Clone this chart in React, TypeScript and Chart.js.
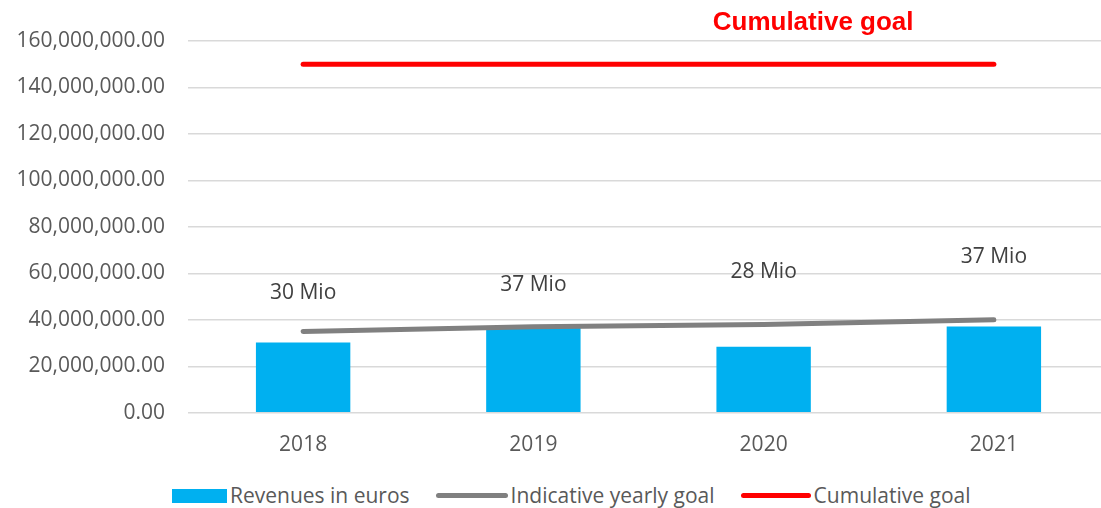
import React, { useEffect, useRef } from "react";
import { Chart, registerables } from "chart.js";

Chart.register(...registerables);

const categories = ["2018", "2019", "2020", "2021"];
const revenues = [30200000, 37200000, 28400000, 37100000];
const yearlyGoal = [35000000, 37000000, 38000000, 40000000];
const cumulativeGoal = [150000000, 150000000, 150000000, 150000000];
const revenueLabels = ["30 Mio", "37 Mio", "28 Mio", "37 Mio"];
const revenueLabelAnchors = [51600000, 55000000, 60600000, 67100000];
const cumulativeLabel = "Cumulative goal";
const yTicks = [0, 20000000, 40000000, 60000000, 80000000, 100000000, 120000000, 140000000, 160000000];

const BLUE = "#00B0F0";
const GRAY = "#808080";
const RED = "#FF0000";
const FONT = "'Open Sans', sans-serif";

const labelsPlugin = {
  id: "customLabels",
  afterDatasetsDraw(chart: any) {
    const { ctx, scales } = chart;
    const x = scales.x;
    const y = scales.y;
    ctx.save();
    ctx.textAlign = "center";
    ctx.textBaseline = "middle";
    ctx.fillStyle = "#404040";
    ctx.font = `21px ${FONT}`;
    revenueLabels.forEach((t, i) => {
      ctx.fillText(t, x.getPixelForValue(i), y.getPixelForValue(revenueLabelAnchors[i]));
    });
    const x2 = x.getPixelForValue(2);
    const x3 = x.getPixelForValue(3);
    ctx.fillStyle = RED;
    ctx.font = `bold 26px 'Liberation Sans', Arial, sans-serif`;
    ctx.fillText(cumulativeLabel, x2 + (x3 - x2) * 0.215, y.getPixelForValue(cumulativeGoal[2]) - 41);
    ctx.restore();
  },
};

export default function App() {
  const ref = useRef<HTMLCanvasElement | null>(null);
  useEffect(() => {
    if (!ref.current) return;
    const chart = new Chart(ref.current, {
      type: "bar",
      data: {
        labels: categories,
        datasets: [
          {
            type: "bar",
            label: "Revenues in euros",
            data: revenues,
            backgroundColor: BLUE,
            barPercentage: 0.41,
            categoryPercentage: 1,
            order: 3,
          },
          {
            type: "line",
            label: "Indicative yearly goal",
            data: yearlyGoal,
            borderColor: GRAY,
            backgroundColor: GRAY,
            borderWidth: 5,
            borderCapStyle: "round",
            pointRadius: 0,
            tension: 0,
            order: 2,
          },
          {
            type: "line",
            label: "Cumulative goal",
            data: cumulativeGoal,
            borderColor: RED,
            backgroundColor: RED,
            borderWidth: 5,
            borderCapStyle: "round",
            pointRadius: 0,
            order: 1,
          },
        ],
      } as any,
      options: {
        responsive: false,
        animation: false,
        layout: { padding: { top: 41, right: 0, left: 0, bottom: 5 } },
        plugins: {
          legend: { display: false },
          tooltip: { enabled: false },
        },
        scales: {
          x: {
            grid: { display: false },
            border: { display: false },
            ticks: { color: "#595959", font: { family: FONT, size: 21 }, padding: 12 },
          },
          y: {
            min: 0,
            max: 160000000,
            afterBuildTicks(axis: any) {
              axis.ticks = yTicks.map((v) => ({ value: v }));
            },
            afterFit(axis: any) {
              axis.width = 188;
            },
            grid: { color: "#D9D9D9", lineWidth: 1.5, drawTicks: false },
            border: { display: false },
            ticks: {
              color: "#595959",
              font: { family: FONT, size: 21 },
              padding: 23,
              callback: (v: any) =>
                Number(v).toLocaleString("en-US", { minimumFractionDigits: 2, maximumFractionDigits: 2 }),
            },
          },
        },
      } as any,
      plugins: [labelsPlugin],
    });
    return () => chart.destroy();
  }, []);

  const legendText: React.CSSProperties = {
    fontFamily: FONT,
    fontSize: 21,
    color: "#595959",
    lineHeight: "21px",
    whiteSpace: "nowrap",
  };

  return (
    <div style={{ position: "absolute", left: 0, top: 0, width: 1101, height: 508, background: "#fff", overflow: "hidden" }}>
      <canvas ref={ref} width={1109} height={475} style={{ display: "block" }} />
      <div style={{ position: "absolute", left: 172, top: 485, display: "flex", alignItems: "center" }}>
        <span style={{ display: "inline-block", width: 55, height: 14, background: BLUE, marginRight: 3 }} />
        <span style={legendText}>Revenues in euros</span>
        <span style={{ display: "inline-block", width: 72, height: 5, borderRadius: 3, background: GRAY, marginLeft: 26, marginRight: 3 }} />
        <span style={legendText}>Indicative yearly goal</span>
        <span style={{ display: "inline-block", width: 70, height: 5, borderRadius: 3, background: RED, marginLeft: 26, marginRight: 3 }} />
        <span style={legendText}>Cumulative goal</span>
      </div>
    </div>
  );
}
